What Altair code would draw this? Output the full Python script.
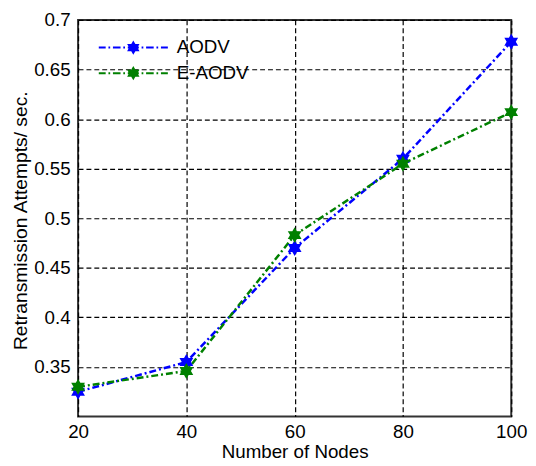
import altair as alt
import pandas as pd

nodes = [20, 40, 60, 80, 100]
aodv = [0.325, 0.355, 0.470, 0.560, 0.678]
eaodv = [0.330, 0.346, 0.483, 0.555, 0.607]
series = ["AODV", "E-AODV"]
colors = ["#0000FF", "#008000"]

rows = []
for n, a, e in zip(nodes, aodv, eaodv):
    rows.append({"Nodes": n, "Value": a, "Protocol": series[0]})
    rows.append({"Nodes": n, "Value": e, "Protocol": series[1]})
df = pd.DataFrame(rows)

# hexagram marker (unit radius)
STAR = ("M0,-1L0.289,-0.5L0.866,-0.5L0.577,0L0.866,0.5L0.289,0.5L0,1"
        "L-0.289,0.5L-0.866,0.5L-0.577,0L-0.866,-0.5L-0.289,-0.5Z")


def legend_path():
    # dash-dot line with a hexagram in the middle (unit half-width = 1)
    parts = []
    segs = [(-1.0, -0.80), (-0.72, -0.67), (-0.59, -0.37), (-0.29, -0.24),
            (-0.16, 0.16),
            (0.24, 0.29), (0.37, 0.59), (0.67, 0.72), (0.80, 1.0)]
    for a, b in segs:
        parts.append(f"M{a:.3f},0L{b:.3f},0")
    r = 0.15
    pts = [(0, -1), (0.289, -0.5), (0.866, -0.5), (0.577, 0), (0.866, 0.5), (0.289, 0.5),
           (0, 1), (-0.289, 0.5), (-0.866, 0.5), (-0.577, 0), (-0.866, -0.5), (-0.289, -0.5)]
    s = "M" + "L".join(f"{x*r:.3f},{y*r:.3f}" for x, y in pts) + "Z"
    parts.append(s)
    for x, y in [(0, -1), (0.866, -0.5), (0.866, 0.5), (0, 1), (-0.866, 0.5), (-0.866, -0.5)]:
        parts.append(f"M0,0L{x*r*0.8:.3f},{y*r*0.8:.3f}")
    parts.append(f"M{-0.45*r:.3f},0L{0.45*r:.3f},0")
    return "".join(parts)


FONT = "Liberation Sans"

color = alt.Color(
    "Protocol:N",
    scale=alt.Scale(domain=series, range=colors),
    legend=alt.Legend(
        title=None,
        orient="none",
        legendX=20,
        legendY=15,
        symbolType=legend_path(),
        symbolSize=4900,
        symbolStrokeWidth=2,
        clipHeight=26,
        rowPadding=0,
        padding=0,
        labelOffset=8,
        labelFont=FONT,
        labelFontSize=19,
        labelColor="#000000",
    ),
)

base = alt.Chart(df).encode(
    x=alt.X(
        "Nodes:Q",
        scale=alt.Scale(domain=[20, 100], nice=False, zero=False),
        axis=alt.Axis(
            values=nodes,
            title="Number of Nodes",
            grid=True,
            gridDash=[5, 3],
            gridColor="#000000",
            gridWidth=1.2,
            gridOpacity=1,
            ticks=False,
            labelFlush=False,
            labelPadding=6,
            labelFont=FONT,
            labelFontSize=19,
            labelColor="#000000",
            titleFont=FONT,
            titleFontSize=19,
            titleFontWeight="normal",
            titleColor="#000000",
            titleY=41,
            titleBaseline="alphabetic",
            domain=False,
        ),
    ),
    y=alt.Y(
        "Value:Q",
        scale=alt.Scale(domain=[0.3, 0.7], nice=False, zero=False),
        axis=alt.Axis(
            values=[0.35, 0.4, 0.45, 0.5, 0.55, 0.6, 0.65, 0.7],
            labelExpr="format(datum.value, '.2~f')",
            title="Retransmission Attempts/ sec.",
            grid=True,
            gridDash=[5, 3],
            gridColor="#000000",
            gridWidth=1.2,
            gridOpacity=1,
            ticks=False,
            labelFlush=False,
            labelPadding=8,
            labelFont=FONT,
            labelFontSize=19,
            labelColor="#000000",
            titleFont=FONT,
            titleFontSize=19.5,
            titleFontWeight="normal",
            titleColor="#000000",
            titleX=-52,
            titleY=203,
            titleAngle=270,
            titleAlign="center",
            titleBaseline="alphabetic",
            domain=False,
        ),
    ),
    color=color,
)

lines = base.mark_line(strokeWidth=2.5, strokeDash=[7, 3, 2, 3])
points = base.mark_point(shape=STAR, size=260, filled=True, opacity=1, strokeWidth=1.5).encode(
    color=alt.Color("Protocol:N", scale=alt.Scale(domain=series, range=colors), legend=None)
)

chart = (
    alt.layer(lines, points)
    .properties(
        width=439,
        height=402,
        autosize=alt.AutoSizeParams(type="none"),
        padding={"left": 71, "top": 9, "right": 17, "bottom": 47},
        background="white",
    )
    .configure_view(stroke="#333333", strokeWidth=2)
)

chart.save("out.html", embed_options={"renderer": "svg", "actions": False})
